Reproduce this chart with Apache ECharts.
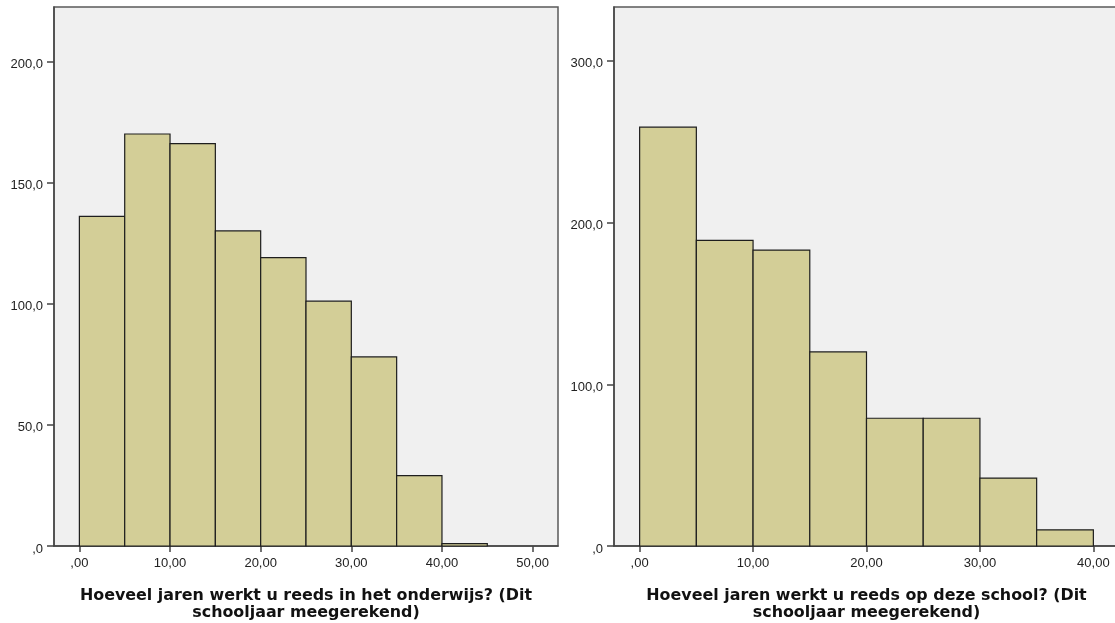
<!DOCTYPE html>
<html>
<head>
<meta charset="utf-8">
<script src="https://cdn.jsdelivr.net/npm/echarts@6/dist/echarts.min.js"></script>
<style>
html,body{margin:0;padding:0;background:#ffffff;}
#chart{width:1115px;height:623px;}
</style>
</head>
<body>
<div id="chart"></div>
<script>
// ---- Data ----
const leftBinStart = [0, 5, 10, 15, 20, 25, 30, 35, 40];
const leftBinEnd   = [5, 10, 15, 20, 25, 30, 35, 40, 45];
const leftCounts   = [136, 170, 166, 130, 119, 101, 78, 29, 1];
const leftXTicks   = [0, 10, 20, 30, 40, 50];
const leftYTicks   = [0, 50, 100, 150, 200];
const leftTitle    = "Hoeveel jaren werkt u reeds in het onderwijs? (Dit\nschooljaar meegerekend)";

const rightBinStart = [0, 5, 10, 15, 20, 25, 30, 35];
const rightBinEnd   = [5, 10, 15, 20, 25, 30, 35, 40];
const rightCounts   = [259, 189, 183, 120, 79, 79, 42, 10];
const rightXTicks   = [0, 10, 20, 30, 40];
const rightYTicks   = [0, 100, 200, 300];
const rightTitle    = "Hoeveel jaren werkt u reeds op deze school? (Dit\nschooljaar meegerekend)";

// ---- Helpers ----
function fmtY(v){ let s = Number(v).toFixed(1).replace('.', ','); if (s.indexOf('0,') === 0) s = s.slice(1); return '{t|' + s + '}'; }
function fmtX(v){ let s = Number(v).toFixed(2).replace('.', ','); if (s.indexOf('0,') === 0) s = s.slice(1); return s; }

const FONT = '"Liberation Sans", Arial, sans-serif';
const TITLE_FONT = '"DejaVu Sans", Verdana, sans-serif';
const BAR_FILL = '#D3CE97';
const BAR_STROKE = '#1e1e1e';
const AXIS_COLOR = '#444444';

function makeData(starts, ends, counts){
  return starts.map((s, i) => [s, ends[i], counts[i]]);
}

function renderBin(params, api){
  const p0 = api.coord([api.value(0), 0]);
  const p1 = api.coord([api.value(1), api.value(2)]);
  return {
    type: 'rect',
    shape: { x: p0[0], y: p1[1], width: p1[0] - p0[0], height: p0[1] - p1[1] },
    style: { fill: BAR_FILL, stroke: BAR_STROKE, lineWidth: 1.2 }
  };
}

function xAxisCfg(gridIndex, min, max, ticks, title){
  return {
    type: 'value', gridIndex: gridIndex, min: min, max: max,
    splitLine: { show: false },
    axisLine: { show: true, onZero: true, lineStyle: { color: AXIS_COLOR, width: 1.5 } },
    axisTick: { show: true, length: 6, inside: false, customValues: ticks, lineStyle: { color: AXIS_COLOR, width: 1.5 } },
    axisLabel: { customValues: ticks, formatter: fmtX, color: '#222', fontFamily: FONT, fontSize: 13, margin: 11 },
    name: title, nameLocation: 'middle', nameGap: 41,
    nameTextStyle: { fontFamily: TITLE_FONT, fontWeight: 'bold', fontSize: 15.9, color: '#111', lineHeight: 17, align: 'center' }
  };
}

function yAxisCfg(gridIndex, min, max, ticks){
  return {
    type: 'value', gridIndex: gridIndex, min: min, max: max,
    splitLine: { show: false },
    axisLine: { show: true, onZero: false, lineStyle: { color: AXIS_COLOR, width: 1.5 } },
    axisTick: { show: true, length: 7, inside: false, customValues: ticks, lineStyle: { color: AXIS_COLOR, width: 1.5 } },
    axisLabel: { customValues: ticks, formatter: fmtY, margin: 11,
      rich: { t: { color: '#222', fontFamily: FONT, fontSize: 13, lineHeight: 15, padding: [6, 0, 0, 0] } } }
  };
}

const chart = echarts.init(document.getElementById('chart'), null, { renderer: 'canvas' });
chart.setOption({
  animation: false,
  backgroundColor: '#ffffff',
  grid: [
    { left: 54, top: 7, width: 504, height: 539, show: true, backgroundColor: '#F0F0F0', borderColor: '#5a5a5a', borderWidth: 1.5, containLabel: false, outerBoundsMode: 'none' },
    { left: 614, top: 7, width: 505, height: 539, show: true, backgroundColor: '#F0F0F0', borderColor: '#5a5a5a', borderWidth: 1.5, containLabel: false, outerBoundsMode: 'none' }
  ],
  xAxis: [
    xAxisCfg(0, -2.8, 52.8, leftXTicks, leftTitle),
    xAxisCfg(1, -2.26, 42.26, rightXTicks, rightTitle)
  ],
  yAxis: [
    yAxisCfg(0, 0, 222.4, leftYTicks),
    yAxisCfg(1, 0, 333.3, rightYTicks)
  ],
  series: [
    { type: 'custom', xAxisIndex: 0, yAxisIndex: 0, renderItem: renderBin,
      encode: { x: [0, 1], y: 2 }, data: makeData(leftBinStart, leftBinEnd, leftCounts), clip: false },
    { type: 'custom', xAxisIndex: 1, yAxisIndex: 1, renderItem: renderBin,
      encode: { x: [0, 1], y: 2 }, data: makeData(rightBinStart, rightBinEnd, rightCounts), clip: false }
  ]
});
</script>
</body>
</html>
